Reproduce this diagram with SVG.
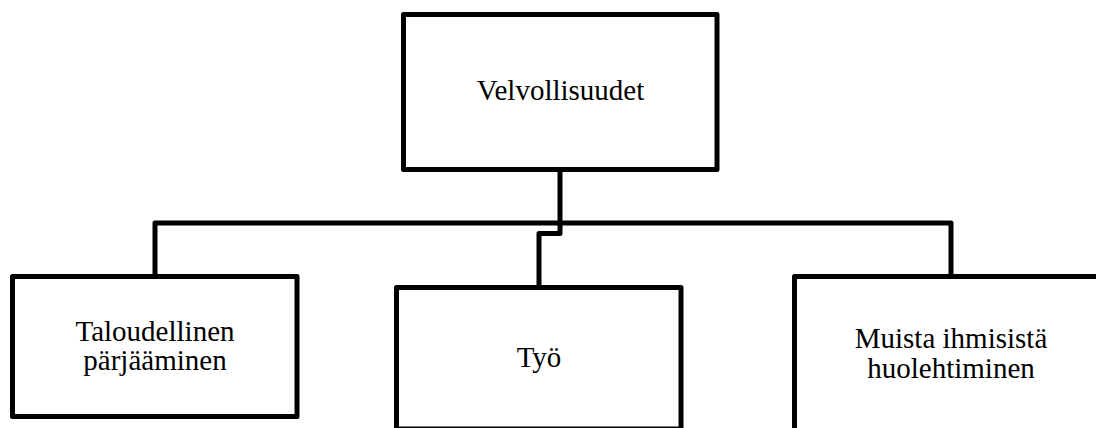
<svg xmlns="http://www.w3.org/2000/svg" width="1096" height="428" viewBox="0 0 1096 428">
<style>
.box{fill:#fff;stroke:#000;stroke-width:5;stroke-linejoin:round}
.conn{fill:none;stroke:#000;stroke-width:5;stroke-linejoin:round}
.lbl{font-family:"Liberation Serif","Times New Roman",serif;font-size:29px;fill:#000;text-anchor:middle}
</style>
<rect width="1096" height="428" fill="#fff"/>
<g id="connectors">
<path class="conn" d="M560,171 V233.5 H539 V286"/>
<path class="conn" d="M155,276 V223 H951 V276"/>
</g>
<g id="node-velvollisuudet">
<rect class="box" x="403.5" y="14.5" width="313.5" height="155"/>
<text class="lbl" x="560.5" y="100">Velvollisuudet</text>
</g>
<g id="node-taloudellinen">
<rect class="box" x="12.5" y="276.5" width="284.5" height="140"/>
<text class="lbl" x="155" y="341">Taloudellinen</text>
<text class="lbl" x="155" y="370">pärjääminen</text>
</g>
<g id="node-tyo">
<rect class="box" x="396.5" y="287.5" width="284.5" height="141.5"/>
<text class="lbl" x="539" y="367">Työ</text>
</g>
<g id="node-muista">
<rect class="box" x="794.5" y="276.5" width="320" height="200"/>
<text class="lbl" x="951" y="348">Muista ihmisistä</text>
<text class="lbl" x="951" y="378">huolehtiminen</text>
</g>
</svg>
